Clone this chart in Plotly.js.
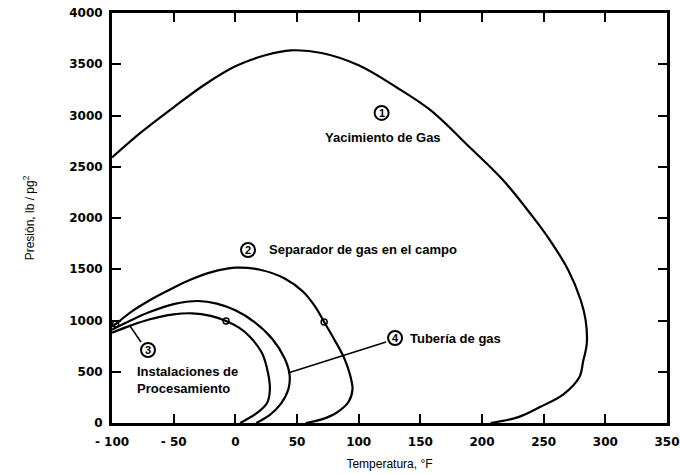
<!DOCTYPE html>
<html>
<head>
<meta charset="utf-8">
<script src="https://cdn.plot.ly/plotly-3.0.1.min.js"></script>
<style>html,body{margin:0;padding:0;background:#fff;}#chart{width:680px;height:474px;}</style>
</head>
<body>
<div id="chart"></div>
<script>
// Curve 1: Yacimiento de Gas
const tempYacimiento = [-100, -77, -50, -25, 0, 25, 45, 70, 100, 130, 158, 190, 217, 240, 255, 270, 280, 284, 285, 282, 279, 266, 247, 230, 207];
const presYacimiento = [2590, 2830, 3080, 3300, 3480, 3590, 3635, 3610, 3490, 3280, 3054, 2690, 2370, 2030, 1785, 1490, 1200, 1005, 780, 600, 449, 280, 156, 60, 0];
// Curve 2: Separador de gas en el campo
const tempSeparador = [-100, -95, -85, -69, -50, -37, -20, 0, 20, 40, 55, 65, 72, 80, 88, 93, 95, 92, 82, 70, 57];
const presSeparador = [940, 985, 1080, 1200, 1320, 1395, 1470, 1515, 1495, 1410, 1280, 1130, 985, 820, 640, 470, 330, 210, 100, 35, 0];
// Curve 3: Instalaciones de Procesamiento
const tempInstal = [-100, -85, -70, -50, -35, -20, -7.5, 3, 12, 21.6, 26.5, 28, 25.7, 17.6, 4];
const presInstal = [880, 950, 1010, 1060, 1070, 1045, 995, 930, 839, 683, 488, 322, 195, 98, 0];
// Curve 4: Tubería de gas
const tempTuberia = [-100, -85, -70, -50, -30, -15, 0, 15, 30, 40, 44, 43, 37, 28, 17];
const presTuberia = [910, 1000, 1080, 1160, 1190, 1165, 1100, 990, 820, 630, 470, 330, 190, 80, 0];
// Operating points (open circles)
const tempPuntos = [-97, -7.5, 72];
const presPuntos = [965, 995, 985];
// Tick labels
const xTickVals = [-100, -50, 0, 50, 100, 150, 200, 250, 300, 350];
const xTickText = ['- 100', '- 50', '0', '50', '100', '150', '200', '250', '300', '350'];
const yTickVals = [0, 500, 1000, 1500, 2000, 2500, 3000, 3500, 4000];

const curveLine = {color: '#000', width: 2.2, shape: 'spline', smoothing: 1};
const traces = [
  {x: tempYacimiento, y: presYacimiento, mode: 'lines', line: curveLine, name: 'Yacimiento de Gas'},
  {x: tempSeparador, y: presSeparador, mode: 'lines', line: curveLine, name: 'Separador de gas en el campo'},
  {x: tempInstal, y: presInstal, mode: 'lines', line: curveLine, name: 'Instalaciones de Procesamiento'},
  {x: tempTuberia, y: presTuberia, mode: 'lines', line: curveLine, name: 'Tubería de gas'},
  {x: tempPuntos, y: presPuntos, mode: 'markers', name: 'puntos',
   marker: {symbol: 'circle-open', size: 6, color: '#000', line: {width: 1.5, color: '#000'}}}
];

const labelFont = {family: 'Liberation Sans, Arial, sans-serif', size: 13, color: '#000', weight: 'bold'};
const numFont = {family: 'Liberation Sans, Arial, sans-serif', size: 11, color: '#000', weight: 'bold'};
const titleFont = {family: 'Liberation Sans, Arial, sans-serif', size: 12, color: '#000'};

function circleShape(x, y) {
  return {type: 'circle', xref: 'x', yref: 'y', xsizemode: 'pixel', ysizemode: 'pixel',
    xanchor: x, yanchor: y, x0: -7, x1: 7, y0: -7, y1: 7, line: {color: '#000', width: 2}, fillcolor: 'rgba(0,0,0,0)'};
}
function numAnn(x, y, t) {
  return {x: x, y: y, xref: 'x', yref: 'y', text: t, showarrow: false, font: numFont, xanchor: 'center', yanchor: 'middle'};
}

const layout = {
  width: 680, height: 474,
  margin: {l: 112, r: 13, t: 13, b: 51},
  paper_bgcolor: '#fff', plot_bgcolor: '#fff',
  showlegend: false,
  xaxis: {
    range: [-100, 350], tickvals: xTickVals, ticktext: xTickText,
    showline: true, linewidth: 3, linecolor: '#000', mirror: 'ticks',
    ticks: 'inside', ticklen: 9, tickwidth: 2, tickcolor: '#000',
    showgrid: false, zeroline: false,
    tickfont: {family: 'DejaVu Sans, sans-serif', size: 12, color: '#000', weight: 'bold'},
    ticklabelstandoff: 6,
    title: {text: 'Temperatura, °F', font: titleFont, standoff: 12}
  },
  yaxis: {
    range: [0, 4000], tickvals: yTickVals,
    showline: true, linewidth: 3, linecolor: '#000', mirror: 'ticks',
    ticks: 'inside', ticklen: 9, tickwidth: 2, tickcolor: '#000',
    showgrid: false, zeroline: false,
    tickfont: {family: 'DejaVu Sans, sans-serif', size: 12, color: '#000', weight: 'bold'},
    ticklabelstandoff: 4,
    title: {text: 'Presión, lb / pg<sup>2</sup>', font: titleFont, standoff: 32}
  },
  shapes: [
    circleShape(118.6, 3025),
    circleShape(10.3, 1688),
    circleShape(-70.8, 712),
    circleShape(129.5, 829),
    {type: 'line', xref: 'x', yref: 'y', x0: 122.2, y0: 790, x1: 42.7, y1: 488, line: {color: '#000', width: 1.5}},
    {type: 'line', xref: 'x', yref: 'y', x0: -76.5, y0: 790, x1: -85.4, y1: 946, line: {color: '#000', width: 1.5}}
  ],
  annotations: [
    numAnn(118.6, 3025, '1'), numAnn(10.3, 1688, '2'), numAnn(-70.8, 712, '3'), numAnn(129.5, 829, '4'),
    {x: 119.8, y: 2790, xref: 'x', yref: 'y', text: 'Yacimiento de Gas', showarrow: false, font: labelFont, xanchor: 'center', yanchor: 'middle'},
    {x: 25.7, y: 1688, xref: 'x', yref: 'y', text: 'Separador de gas en el campo', showarrow: false, font: labelFont, xanchor: 'left', yanchor: 'middle'},
    {x: -81.3, y: 415, xref: 'x', yref: 'y', text: 'Instalaciones de<br>Procesamiento', showarrow: false, font: labelFont, xanchor: 'left', yanchor: 'middle', align: 'left'},
    {x: 140, y: 829, xref: 'x', yref: 'y', text: 'Tubería de gas', showarrow: false, font: labelFont, xanchor: 'left', yanchor: 'middle'}
  ]
};

Plotly.newPlot('chart', traces, layout, {staticPlot: true, displayModeBar: false});
</script>
</body>
</html>
